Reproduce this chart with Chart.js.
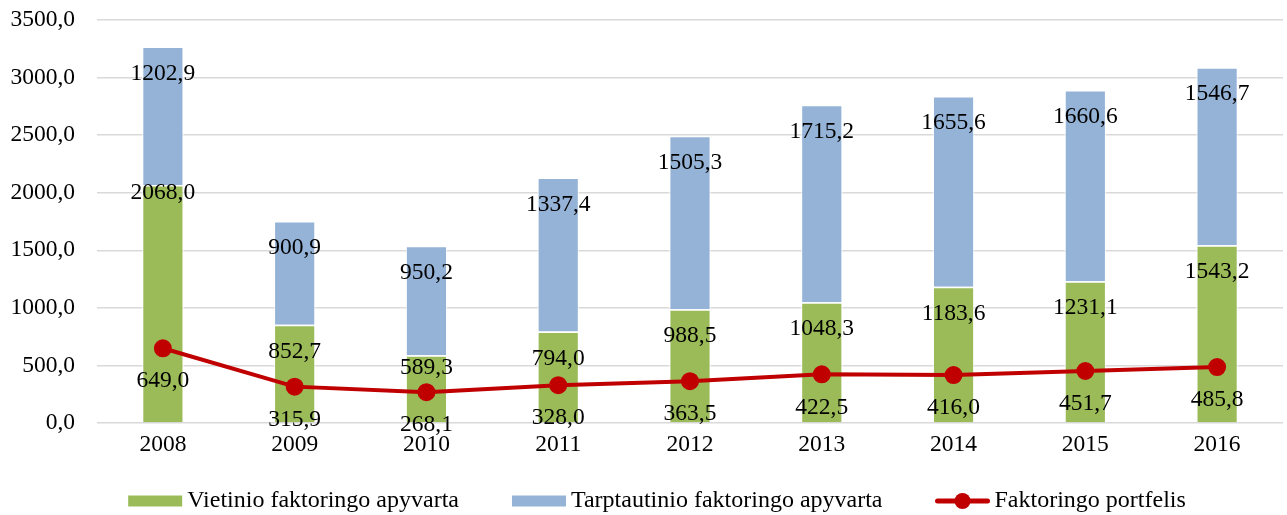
<!DOCTYPE html>
<html>
<head>
<meta charset="utf-8">
<script src="https://cdn.jsdelivr.net/npm/chart.js@4"></script>
<style>
  html, body { margin: 0; padding: 0; background: #fff; }
  #wrap { width: 1287px; height: 515px; }
</style>
</head>
<body>
<div id="wrap"><canvas id="myChart"></canvas></div>
<script>
const years = ['2008', '2009', '2010', '2011', '2012', '2013', '2014', '2015', '2016'];
const domestic = [2068.0, 852.7, 589.3, 794.0, 988.5, 1048.3, 1183.6, 1231.1, 1543.2];
const international = [1202.9, 900.9, 950.2, 1337.4, 1505.3, 1715.2, 1655.6, 1660.6, 1546.7];
const portfolio = [649.0, 315.9, 268.1, 328.0, 363.5, 422.5, 416.0, 451.7, 485.8];
const yTicks = [0, 500, 1000, 1500, 2000, 2500, 3000, 3500];

const FONT = '"Liberation Serif", "Times New Roman", serif';
const GREEN = '#9BBB59';
const BLUE = '#95B3D7';
const RED = '#C00000';
const FS = 23.5;

function fmt(v) {
  return v.toFixed(1).replace('.', ',');
}

const valueLabels = {
  id: 'valueLabels',
  afterDatasetsDraw(chart) {
    const ctx = chart.ctx;
    ctx.save();
    ctx.font = FS + 'px ' + FONT;
    ctx.fillStyle = '#000';
    ctx.textAlign = 'center';
    ctx.textBaseline = 'middle';
    chart.data.datasets.forEach((ds, i) => {
      const meta = chart.getDatasetMeta(i);
      meta.data.forEach((el, j) => {
        let dy = ds.type === 'line' ? 33 : 27;
        if (i === 0 && j === 0) dy = 8;
        if (i === 0 && j === 2) dy = 13;
        ctx.fillText(fmt(ds.data[j]), el.x, el.y + dy);
      });
    });
    ctx.restore();
  }
};

// legend drawn by hand: Excel style box / line-with-marker symbols
const bottomLegend = {
  id: 'bottomLegend',
  afterDraw(chart) {
    const ctx = chart.ctx;
    const y = 501;
    const sym = 54, gapText = 5, gapItem = 53;
    ctx.save();
    ctx.font = '24px ' + FONT;
    const items = chart.data.datasets.map(ds => ({ ds, w: ctx.measureText(ds.label).width }));
    const total = items.reduce((s, it) => s + sym + gapText + it.w, 0) + gapItem * (items.length - 1);
    let x = 657 - total / 2;
    items.forEach(({ ds, w }) => {
      if (ds.type === 'line') {
        ctx.strokeStyle = ds.borderColor;
        ctx.lineWidth = 5;
        ctx.lineCap = 'round';
        ctx.beginPath(); ctx.moveTo(x + 2, y); ctx.lineTo(x + sym - 2, y); ctx.stroke();
        ctx.fillStyle = ds.backgroundColor;
        ctx.beginPath(); ctx.arc(x + sym / 2, y, 8, 0, Math.PI * 2); ctx.fill();
      } else {
        ctx.fillStyle = ds.backgroundColor;
        ctx.fillRect(x, y - 5.5, sym, 11);
      }
      x += sym + gapText;
      ctx.fillStyle = '#000';
      ctx.textAlign = 'left';
      ctx.textBaseline = 'middle';
      ctx.fillText(ds.label, x, y);
      x += w + gapItem;
    });
    ctx.restore();
  }
};

const ctx = document.getElementById('myChart');
new Chart(ctx, {
  type: 'bar',
  data: {
    labels: years,
    datasets: [
      {
        label: 'Vietinio faktoringo apyvarta',
        data: domestic,
        backgroundColor: GREEN,
        borderColor: 'rgba(255,255,255,0.6)',
        borderWidth: 1.5,
        barPercentage: 0.64,
        categoryPercentage: 0.5,
        order: 1
      },
      {
        label: 'Tarptautinio faktoringo apyvarta',
        data: international,
        backgroundColor: BLUE,
        borderColor: 'rgba(255,255,255,0.6)',
        borderWidth: 1.5,
        barPercentage: 0.64,
        categoryPercentage: 0.5,
        order: 1
      },
      {
        type: 'line',
        label: 'Faktoringo portfelis',
        data: portfolio,
        borderColor: RED,
        backgroundColor: RED,
        borderWidth: 4,
        pointRadius: 7,
        pointHoverRadius: 7,
        tension: 0,
        stack: 'line',
        order: 0
      }
    ]
  },
  options: {
    responsive: true,
    maintainAspectRatio: false,
    animation: false,
    layout: { autoPadding: false, padding: { top: 20, right: 4, left: 0, bottom: 0 } },
    scales: {
      x: {
        stacked: true,
        grid: { display: false, drawTicks: false },
        border: { display: false },
        afterFit(axis) {
          axis.height = 92;
          axis.paddingLeft = 0;
          axis.paddingRight = 0;
        },
        ticks: { color: '#000', font: { family: FONT, size: FS }, padding: 8 }
      },
      y: {
        stacked: true,
        min: 0,
        max: 3500,
        afterBuildTicks(axis) { axis.ticks = yTicks.map(v => ({ value: v })); },
        afterFit(axis) {
          axis.width = 97;
          axis.paddingTop = 0;
          axis.paddingBottom = 0;
        },
        grid: { color: '#D9D9D9', lineWidth: 1.5, drawTicks: false },
        border: { display: false },
        ticks: {
          color: '#000',
          font: { family: FONT, size: FS },
          padding: 22,
          callback: v => fmt(v)
        }
      }
    },
    plugins: {
      tooltip: { enabled: false },
      legend: { display: false }
    }
  },
  plugins: [valueLabels, bottomLegend]
});
</script>
</body>
</html>
